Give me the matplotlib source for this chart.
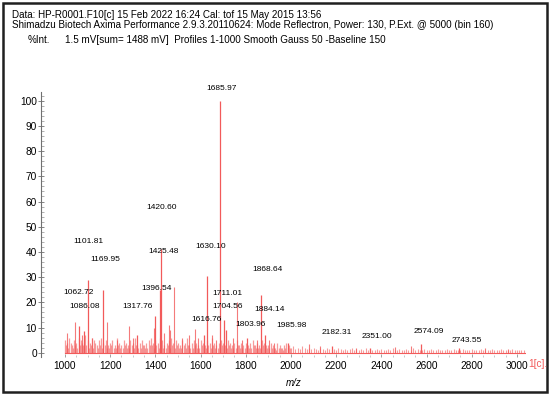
import numpy as np
import matplotlib
matplotlib.use('Agg')
import matplotlib.pyplot as plt
from matplotlib.patches import Rectangle

plt.rcParams['font.family'] = ['Liberation Sans', 'DejaVu Sans']

# labelled peaks: m/z, intensity (%), label position (m/z, %)
peak_mz = [1062.72, 1086.08, 1101.81, 1169.95, 1317.76, 1396.54, 1420.60, 1425.48,
           1616.76, 1630.10, 1685.97, 1704.56, 1711.01, 1803.96, 1868.64, 1884.14,
           1985.98, 2182.31, 2351.00, 2574.09, 2743.55]
peak_int = [10.5, 8.5, 29, 25, 7, 14.5, 25, 41,
            7, 30.5, 100, 13, 9, 6, 23, 7,
            4, 2.5, 2, 3.5, 2]
label_x = [1062, 1088, 1102, 1177, 1323, 1407, 1429, 1434,
           1628, 1646, 1695, 1721, 1721, 1819, 1895, 1903,
           2003, 2202, 2379, 2608, 2777]
label_y = [24, 18.5, 44, 37, 18.3, 25.4, 57.5, 40,
           13, 42, 105, 18.3, 23.5, 11, 33, 17,
           10.7, 8, 6.5, 8.3, 5]

# other (unlabelled) peaks
extra_mz = [1010, 1045, 1075, 1120, 1186, 1232, 1285, 1300, 1392, 1440, 1460, 1466,
            1483, 1520, 1548, 1575, 1590, 1652, 1668, 1742, 1760, 1782, 1848, 1905,
            1925, 2082, 2130, 2290, 2460, 2530, 2860, 2960]
extra_int = [8, 12, 7, 6, 12, 5, 10.5, 6, 10, 8, 11, 9,
             26, 6, 7, 9.5, 6, 7, 5, 6, 20, 5, 5, 5,
             4, 3.5, 2.5, 2, 2.2, 2.5, 1.8, 1.5]

# baseline noise, 10 Da steps from 1000 to 1990
noise_lo = [5, 4, 6, 3, 5, 4, 6, 5, 3, 7,
            5, 4, 6, 5, 3, 5, 6, 4, 5, 3,
            4, 5, 3, 6, 4, 3, 5, 4, 3, 5,
            4, 6, 3, 4, 5, 3, 4, 5, 6, 4,
            5, 4, 6, 5, 3, 4, 5, 6, 4, 5,
            4, 3, 5, 4, 6, 3, 4, 5, 4, 3,
            5, 4, 3, 5, 4, 6, 4, 3, 4, 5,
            4, 3, 5, 4, 3, 4, 5, 3, 4, 3,
            4, 3, 4, 5, 3, 4, 3, 5, 4, 3,
            3, 4, 3, 2, 4, 3, 2, 3, 4, 3]
# in-between noise, offset 5 Da
noise_lo2 = [3, 2, 4, 2, 3, 2, 3, 4, 2, 3,
             2, 3, 2, 4, 2, 3, 2, 3, 2, 2,
             3, 2, 2, 3, 2, 2, 3, 2, 2, 3,
             2, 3, 2, 2, 3, 2, 2, 3, 3, 2,
             3, 2, 3, 2, 2, 3, 2, 3, 2, 3,
             2, 2, 3, 2, 3, 2, 2, 3, 2, 2,
             3, 2, 2, 3, 2, 3, 2, 2, 2, 3,
             2, 2, 3, 2, 2, 2, 3, 2, 2, 2,
             2, 2, 2, 3, 2, 2, 2, 3, 2, 2,
             2, 2, 2, 1, 2, 2, 1, 2, 2, 2]
# 10 Da steps from 2000 on
noise_hi = [2, 2.5, 1.5, 2, 1.5, 2.5, 2, 1.5, 2, 1.5,
            2, 1.5, 1, 2, 1.5, 1, 2, 1.5, 1, 1.5,
            1, 2, 1.5, 1, 1.5, 1, 1.5, 2, 1, 1.5,
            1, 1.5, 1, 2, 1, 1.5, 1, 1, 1.5, 1,
            1.5, 1, 1, 1.5, 1, 2, 1, 1, 1.5, 1,
            1, 1.5, 1, 1, 2, 1, 1.5, 1, 1, 1.5,
            1, 1, 1.5, 1, 1, 1.5, 1, 1, 1, 1.5,
            1, 1, 1.5, 1, 1, 1, 1.5, 1, 1, 1,
            1.5, 1, 1, 1, 1.5, 1, 1, 1, 1, 1.5,
            1, 1, 1, 1.5, 1, 1, 1, 1, 1.5, 1,
            1, 1, 1, 1]

xticks = [1000, 1200, 1400, 1600, 1800, 2000, 2200, 2400, 2600, 2800, 3000]
yticks = [0, 10, 20, 30, 40, 50, 60, 70, 80, 90, 100]

red = '#f25a5a'

fig = plt.figure(figsize=(5.5, 3.95), dpi=100)
ax = fig.add_axes([41/550, 1 - 356.5/395, 485/550, 264.6/395])

mz_lo = 1000 + 10*np.arange(len(noise_lo))
mz_lo2 = 1005 + 10*np.arange(len(noise_lo2))
mz_hi = 2000 + 10*np.arange(len(noise_hi))
ax.vlines(mz_lo, 0, noise_lo, color=red, lw=0.9, alpha=0.6)
ax.vlines(mz_lo2, 0, noise_lo2, color=red, lw=0.9, alpha=0.6)
ax.vlines(mz_hi, 0, noise_hi, color=red, lw=0.8, alpha=0.6)
ax.vlines(extra_mz, 0, extra_int, color=red, lw=0.8, alpha=0.8)
ax.vlines(peak_mz, 0, peak_int, color=red, lw=0.9)
ax.plot([1000, 3035], [0, 0], color=red, lw=0.8)

for x, y, t in zip(label_x, label_y, peak_mz):
    ax.text(x, y, '%.2f' % t, fontsize=6, ha='center', va='center', clip_on=False)

ax.set_xlim(894, 3040)
ax.set_ylim(-1.5, 103.5)
for s in ['top', 'right', 'bottom']:
    ax.spines[s].set_visible(False)
ax.spines['left'].set_color('#707070')
ax.spines['left'].set_linewidth(0.8)

ax.set_xticks(xticks)
ax.set_yticks(yticks)
ax.set_yticks(np.arange(0, 104, 2), minor=True)
ax.set_xticks(np.arange(1000, 3040, 50), minor=True)
ax.tick_params(axis='y', which='major', direction='inout', length=4, width=0.6,
               color='#707070', labelsize=7.3, pad=1)
ax.tick_params(axis='y', which='minor', direction='in', length=2, width=0.5, color='#909090')
ax.tick_params(axis='x', which='major', direction='in', length=2.5, width=0.6,
               color='#909090', labelsize=7.3, pad=3)
ax.tick_params(axis='x', which='minor', direction='in', length=1.5, width=0.5, color='#b0b0b0')

fig.text(294/550, 1 - 383/395, 'm/z', fontsize=7, style='italic', ha='center', va='center')
fig.text(528/550, 1 - 364/395, '1[c].', fontsize=7.3, color=red, ha='left', va='center')

fig.text(12/550, 1 - 14.5/395, 'Data: HP-R0001.F10[c] 15 Feb 2022 16:24 Cal: tof 15 May 2015 13:56',
         fontsize=7.1, va='center')
fig.text(12/550, 1 - 25.5/395,
         'Shimadzu Biotech Axima Performance 2.9.3.20110624: Mode Reflectron, Power: 130, P.Ext. @ 5000 (bin 160)',
         fontsize=7.1, va='center')
fig.text(28/550, 1 - 40/395, '%Int.', fontsize=7.1, va='center')
fig.text(65/550, 1 - 40/395, '1.5 mV[sum= 1488 mV]  Profiles 1-1000 Smooth Gauss 50 -Baseline 150',
         fontsize=7.1, va='center')

fig.patches.append(Rectangle((3/550, 3/395), 544/550, 389/395, transform=fig.transFigure,
                             fill=False, edgecolor='#202020', lw=1.8))

fig.savefig('out.png', dpi=100)
